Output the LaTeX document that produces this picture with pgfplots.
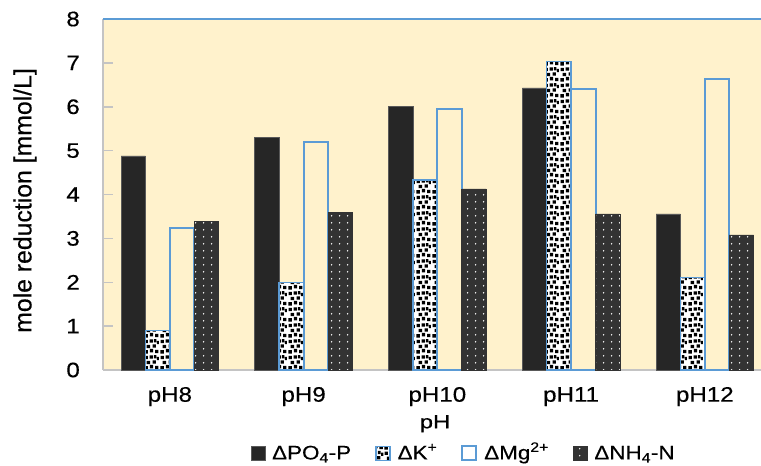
\documentclass[border=0pt]{standalone}
\usepackage{pgfplots}
\pgfplotsset{compat=1.18}
\usepackage{pgfplotstable}
\usepackage{fontspec}
\setmainfont{Liberation Sans}[FakeBold=0.4]
\newfontfamily\ylabfont{Liberation Sans}[FakeBold=0.4]
\newfontfamily\stretchfont{Liberation Sans}[FakeStretch=1.15,FakeBold=0.4]
\newfontfamily\xlabfont{Liberation Sans}[FakeStretch=1.25,FakeBold=0.4]
\usetikzlibrary{patterns,patterns.meta}

\definecolor{cream}{HTML}{FFF2CC}
\definecolor{xblue}{HTML}{5B9BD5}
\definecolor{axgray}{HTML}{C4C4C4}
\definecolor{darkbar}{HTML}{262626}
\definecolor{dotbar}{HTML}{333333}

\pgfdeclarepattern{name=kpat, type=uncolored,
  bottom left={\pgfpoint{0pt}{0pt}}, top right={\pgfpoint{16pt}{16pt}},
  tile size={\pgfpoint{16pt}{16pt}},
  code={
    \pgfpathrectangle{\pgfpoint{0.5pt}{0.5pt}}{\pgfpoint{3.5pt}{3.5pt}}
    \pgfpathrectangle{\pgfpoint{6.3pt}{1.8pt}}{\pgfpoint{3.5pt}{3.5pt}}
    \pgfpathrectangle{\pgfpoint{11.8pt}{0.8pt}}{\pgfpoint{3.5pt}{3.5pt}}
    \pgfpathrectangle{\pgfpoint{2.9pt}{6.2pt}}{\pgfpoint{3.5pt}{3.5pt}}
    \pgfpathrectangle{\pgfpoint{9.2pt}{6.8pt}}{\pgfpoint{3.5pt}{3.5pt}}
    \pgfpathrectangle{\pgfpoint{13.6pt}{10.4pt}}{\pgfpoint{2.2pt}{3.5pt}}
    \pgfpathrectangle{\pgfpoint{0.6pt}{11.4pt}}{\pgfpoint{3.5pt}{3.5pt}}
    \pgfpathrectangle{\pgfpoint{6.0pt}{12.0pt}}{\pgfpoint{3.5pt}{3.5pt}}
    \pgfpathrectangle{\pgfpoint{10.4pt}{12.2pt}}{\pgfpoint{2.6pt}{3.5pt}}
    \pgfusepath{fill}
  }}

\pgfdeclarepattern{name=npat, type=uncolored,
  bottom left={\pgfpoint{0pt}{0pt}}, top right={\pgfpoint{8pt}{6.7pt}},
  tile size={\pgfpoint{8pt}{6.7pt}},
  code={
    \pgfpathcircle{\pgfpoint{4pt}{3.35pt}}{0.85pt}
    \pgfusepath{fill}
  }}

\pgfplotsset{sqlegend/.style={legend image code/.code={\draw[##1] (0pt,-1pt) rectangle (14pt,13pt);}}}

\pgfplotstableread{
x PO4 K Mg NH4
0 4.88 0.90 3.24 3.39
1 5.31 1.99 5.20 3.60
2 6.00 4.33 5.94 4.13
3 6.43 7.03 6.41 3.56
4 3.56 2.11 6.63 3.08
}\datatable

\begin{document}
\begin{tikzpicture}
\useasboundingbox (0,0) rectangle (761pt,466pt);
\begin{axis}[
  at={(103pt,96pt)}, anchor=south west,
  scale only axis, width=658pt, height=351pt,
  ybar=0pt, bar width=0.1825,
  xmin=-0.5, xmax=4.42, ymin=0, ymax=8,
  xtick={0,1,2,3,4}, xticklabels={pH8,pH9,pH10,pH11,pH12},
  ytick={0,1,2,3,4,5,6,7,8},
  tick align=inside,
  axis x line*=bottom, axis y line*=left,
  axis line style={axgray, line width=2pt, -},
  x tick style={draw=none},
  y tick style={axgray, line width=1.5pt},
  major tick length=10pt,
  axis background/.style={fill=cream},
  clip=false,
  /pgf/number format/assume math mode=true,
  yticklabel style={font=\stretchfont\fontsize{21}{25}\selectfont, anchor=east, inner sep=0pt, xshift=-23pt},
  xticklabel style={font=\stretchfont\fontsize{21}{25}\selectfont, anchor=base, inner sep=0pt, yshift=-31.7pt},
  ylabel={mole reduction [mmol/L]},
  ylabel style={at={(axis description cs:-0.1185,0.483)}, anchor=center, inner sep=0pt, font=\ylabfont\fontsize{24.8}{28}\selectfont},
  xlabel={pH},
  xlabel style={at={(axis description cs:0.5046,0)}, anchor=base, inner sep=0pt, yshift=-58.3pt, font=\xlabfont\fontsize{19}{22}\selectfont},
  legend columns=4,
  legend style={at={(axis description cs:0.548,-0.2325)}, anchor=center, draw=none, fill=none,
    font=\stretchfont\fontsize{19.5}{23}\selectfont,
    cells={anchor=base west, inner sep=0pt},
    /tikz/every odd column/.append style={column sep=5pt},
    /tikz/every even column/.append style={column sep=22pt}},
]
\addplot[fill=darkbar, draw=gray!70!black, line width=0.6pt, sqlegend] table[x=x,y=PO4]{\datatable};
\addlegendentry{ΔPO\textsubscript{4}-P}
\addplot[draw=xblue, line width=1.5pt, pattern=kpat, pattern color=black, preaction={fill=white}, sqlegend] table[x=x,y=K]{\datatable};
\addlegendentry{ΔK\textsuperscript{+}}
\addplot[draw=xblue, line width=2pt, fill=none, sqlegend] table[x=x,y=Mg]{\datatable};
\addlegendentry{ΔMg\textsuperscript{2+}}
\addplot[draw=dotbar, line width=0.6pt, pattern=npat, pattern color=white, preaction={fill=dotbar}, sqlegend] table[x=x,y=NH4]{\datatable};
\addlegendentry{ΔNH\textsubscript{4}-N}
\draw[xblue, line width=2pt] (rel axis cs:0,1) -- (rel axis cs:1,1);
\end{axis}
\end{tikzpicture}
\end{document}
